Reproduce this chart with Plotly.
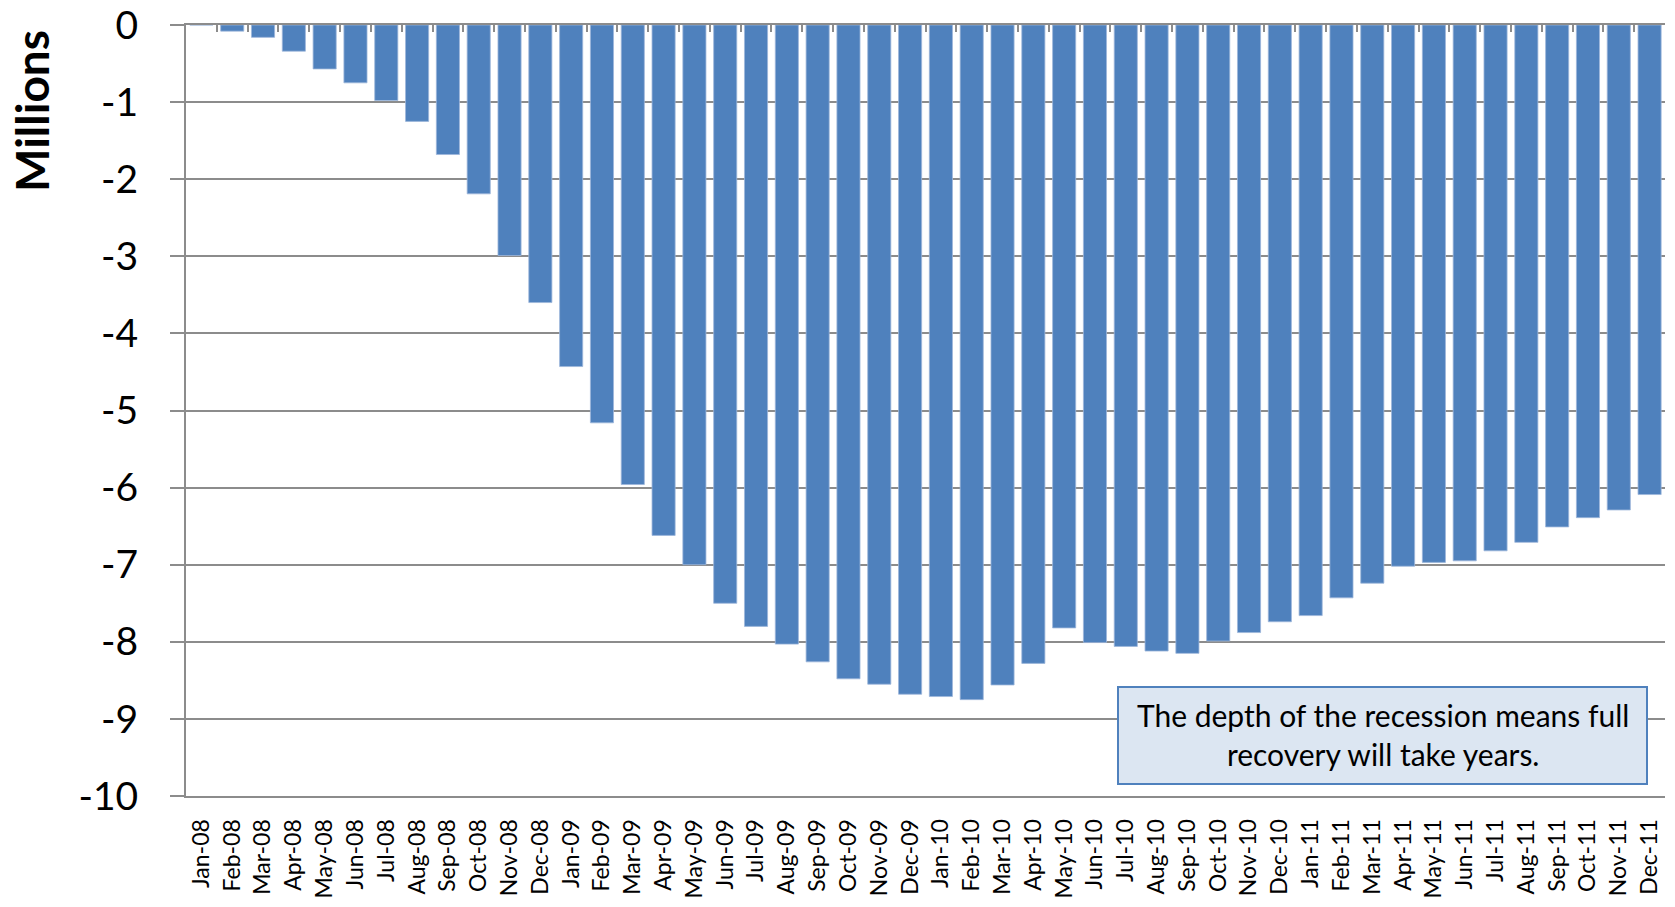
import plotly.graph_objects as go

# Month labels along the category axis
months = [
    "Jan-08", "Feb-08", "Mar-08", "Apr-08", "May-08", "Jun-08",
    "Jul-08", "Aug-08", "Sep-08", "Oct-08", "Nov-08", "Dec-08",
    "Jan-09", "Feb-09", "Mar-09", "Apr-09", "May-09", "Jun-09",
    "Jul-09", "Aug-09", "Sep-09", "Oct-09", "Nov-09", "Dec-09",
    "Jan-10", "Feb-10", "Mar-10", "Apr-10", "May-10", "Jun-10",
    "Jul-10", "Aug-10", "Sep-10", "Oct-10", "Nov-10", "Dec-10",
    "Jan-11", "Feb-11", "Mar-11", "Apr-11", "May-11", "Jun-11",
    "Jul-11", "Aug-11", "Sep-11", "Oct-11", "Nov-11", "Dec-11",
]

# Cumulative change in jobs since Jan-08, millions
jobs_change = [
    0.00, -0.08, -0.16, -0.34, -0.57, -0.75,
    -0.98, -1.25, -1.68, -2.19, -2.99, -3.60,
    -4.43, -5.16, -5.96, -6.62, -7.00, -7.50,
    -7.80, -8.03, -8.26, -8.48, -8.55, -8.68,
    -8.71, -8.75, -8.56, -8.28, -7.82, -8.01,
    -8.06, -8.12, -8.15, -7.99, -7.88, -7.74,
    -7.66, -7.43, -7.24, -7.02, -6.97, -6.95,
    -6.82, -6.71, -6.51, -6.39, -6.29, -6.09,
]

y_ticks = list(range(0, -11, -1))

BLUE = "#4F81BD"
GRID = "#8C8C8C"
FONT = "Lato"

W, H = 1675, 907
L, R, T, B = 186, 10, 25, 111
plot_w = W - L - R
plot_h = H - T - B
y_unit = plot_h / 10.0


def px_to_paper_x(px):
    return (px - L) / plot_w


def px_to_y(py):
    return -(py - T) / y_unit


fig = go.Figure()

fig.add_trace(go.Bar(
    x=months,
    y=jobs_change,
    marker=dict(color=BLUE, line=dict(color="#9DB6DA", width=0.8)),
    hoverinfo="x+y",
    showlegend=False,
))

# Invisible trace carrying the top axis with boundary tick marks
fig.add_trace(go.Scatter(
    x=[-0.5, len(months) - 0.5],
    y=[None, None],
    xaxis="x2",
    mode="markers",
    showlegend=False,
    hoverinfo="skip",
))

fig.update_layout(
    width=W,
    height=H,
    margin=dict(l=L, r=R, t=T, b=B, autoexpand=False),
    paper_bgcolor="white",
    plot_bgcolor="white",
    bargap=0.25,
    font=dict(family=FONT, color="black"),
    xaxis=dict(
        type="category",
        categoryorder="array",
        categoryarray=months,
        range=[-0.5, len(months) - 0.5],
        automargin=False,
        showgrid=False,
        zeroline=False,
        showline=True,
        linecolor=GRID,
        linewidth=2,
        mirror=True,
        ticks="",
        tickangle=-90,
        tickfont=dict(family=FONT, size=23, color="black"),
        ticklabelstandoff=12,
        fixedrange=True,
    ),
    xaxis2=dict(
        overlaying="x",
        side="top",
        anchor="y",
        range=[-0.5, len(months) - 0.5],
        automargin=False,
        tickmode="linear",
        tick0=-0.5,
        dtick=1,
        ticks="inside",
        ticklen=7,
        tickwidth=2,
        tickcolor=GRID,
        showticklabels=False,
        showgrid=False,
        showline=False,
        zeroline=False,
        fixedrange=True,
    ),
    yaxis=dict(
        range=[-10, 0],
        automargin=False,
        tickmode="array",
        tickvals=y_ticks,
        ticktext=[str(v) for v in y_ticks],
        showgrid=True,
        gridcolor=GRID,
        gridwidth=2,
        zeroline=False,
        showline=True,
        linecolor=GRID,
        linewidth=2,
        ticks="outside",
        ticklen=14,
        tickwidth=2,
        tickcolor=GRID,
        tickfont=dict(family=FONT, size=39, color="black"),
        ticklabelstandoff=24,
        fixedrange=True,
    ),
    shapes=[
        dict(
            type="rect",
            xref="paper",
            yref="y",
            x0=px_to_paper_x(1118),
            x1=px_to_paper_x(1647),
            y0=px_to_y(687),
            y1=px_to_y(784),
            fillcolor="#DCE6F2",
            line=dict(color=BLUE, width=2),
            layer="above",
        )
    ],
    annotations=[
        dict(
            text="<b>Millions</b>",
            xref="paper",
            yref="y",
            x=px_to_paper_x(31),
            y=px_to_y(111),
            textangle=-90,
            showarrow=False,
            xanchor="center",
            yanchor="middle",
            font=dict(family=FONT, size=46, color="black"),
        ),
        dict(
            text="The depth of the recession means full<br>recovery will take years.",
            xref="paper",
            yref="y",
            x=(px_to_paper_x(1118) + px_to_paper_x(1647)) / 2,
            y=px_to_y(734.5),
            showarrow=False,
            xanchor="center",
            yanchor="middle",
            align="center",
            font=dict(family=FONT, size=30, color="black"),
        ),
    ],
)

fig.write_html("out.html")
